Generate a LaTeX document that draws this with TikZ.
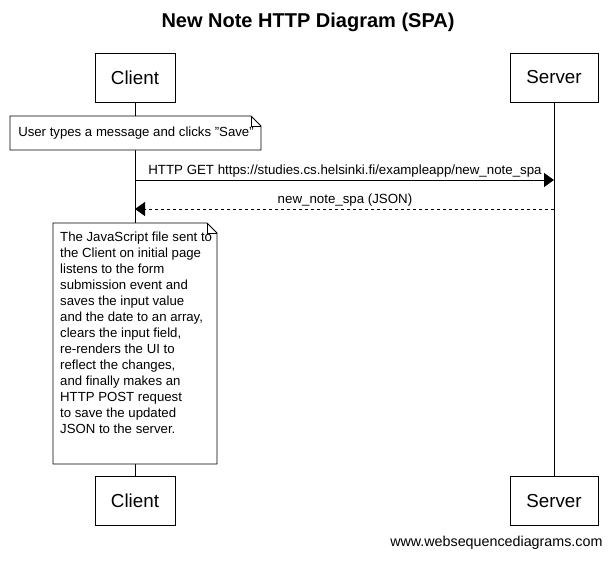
\documentclass[tikz,border=0pt]{standalone}
\usepackage{fontspec}
\setmainfont[Ligatures=NoCommon]{Liberation Sans}
\usetikzlibrary{arrows.meta}
\tikzset{
  actor/.style={draw,line width=1pt,fill=white,minimum width=80pt,minimum height=49pt,font=\fontsize{18.8}{20}\selectfont},
  life/.style={line width=0.9pt,draw=black},
  notebox/.style={inner sep=0pt,font=\fontsize{13.2}{16}\selectfont},
  msg/.style={line width=0.9pt,-{Triangle[length=10pt,width=14pt]}},
  reply/.style={msg,dashed},
  msglabel/.style={font=\fontsize{13.3}{15}\selectfont,anchor=south}
}
\newcommand{\foldnote}[5]{% x1,y1,x2,y2,name
  \draw[line width=0.9pt,fill=white] (#1,#2) -- (#3-10,#2) -- (#3,#2+10) -- (#3,#4) -- (#1,#4) -- cycle;
  \draw[line width=0.6pt] (#3-10,#2) -- (#3-10,#2+10) -- (#3,#2+10);
  \coordinate (#5) at (#1,#2);
}
\begin{document}
\begin{tikzpicture}[x=1pt,y=-1pt]
  \useasboundingbox (0,0) rectangle (613,560);
  \node[font=\bfseries\fontsize{20}{22}\selectfont] (title) at (308,22) {New Note HTTP Diagram (SPA)};

  \node[actor] (ctop) at (135,77.5) {Client};
  \node[actor,minimum width=88pt] (stop) at (554,77.5) {Server};
  \node[actor] (cbot) at (135,501) {Client};
  \node[actor,minimum width=88pt] (sbot) at (554,501) {Server};

  \draw[life] (ctop.south) -- (cbot.north);
  \draw[life] (stop.south) -- (sbot.north);

  % user action
  \foldnote{10}{116}{261}{150}{n1}
  \node[notebox] (n1text) at (136,133) {User types a message and clicks \symbol{34}Save\symbol{34}};

  % request and response
  \coordinate (c1) at (135,180);
  \coordinate (s1) at (554,180);
  \coordinate (c2) at (135,209);
  \coordinate (s2) at (554,209);
  \draw[msg] (c1) -- (s1);
  \node[msglabel] (m1) at (345,181) {HTTP GET https://studies.cs.helsinki.fi/exampleapp/new\_note\_spa};
  \draw[reply] (s2) -- (c2);
  \node[msglabel] (m2) at (345,210) {new\_note\_spa (JSON)};

  % what the script does
  \foldnote{53}{223}{217}{464}{n2}
  \node[notebox,anchor=north west,align=left] (n2text) at (60,232) {The JavaScript file sent to\\
    the Client on initial page\\
    listens to the form\\
    submission event and\\
    saves the input value\\
    and the date to an array,\\
    clears the input field,\\
    re-renders the UI to\\
    reflect the changes,\\
    and finally makes an\\
    HTTP POST request\\
    to save the updated\\
    JSON to the server.};

  \node[anchor=south east,font=\fontsize{14.3}{16}\selectfont] (wsd) at (606,553) {www.websequencediagrams.com};
\end{tikzpicture}
\end{document}
